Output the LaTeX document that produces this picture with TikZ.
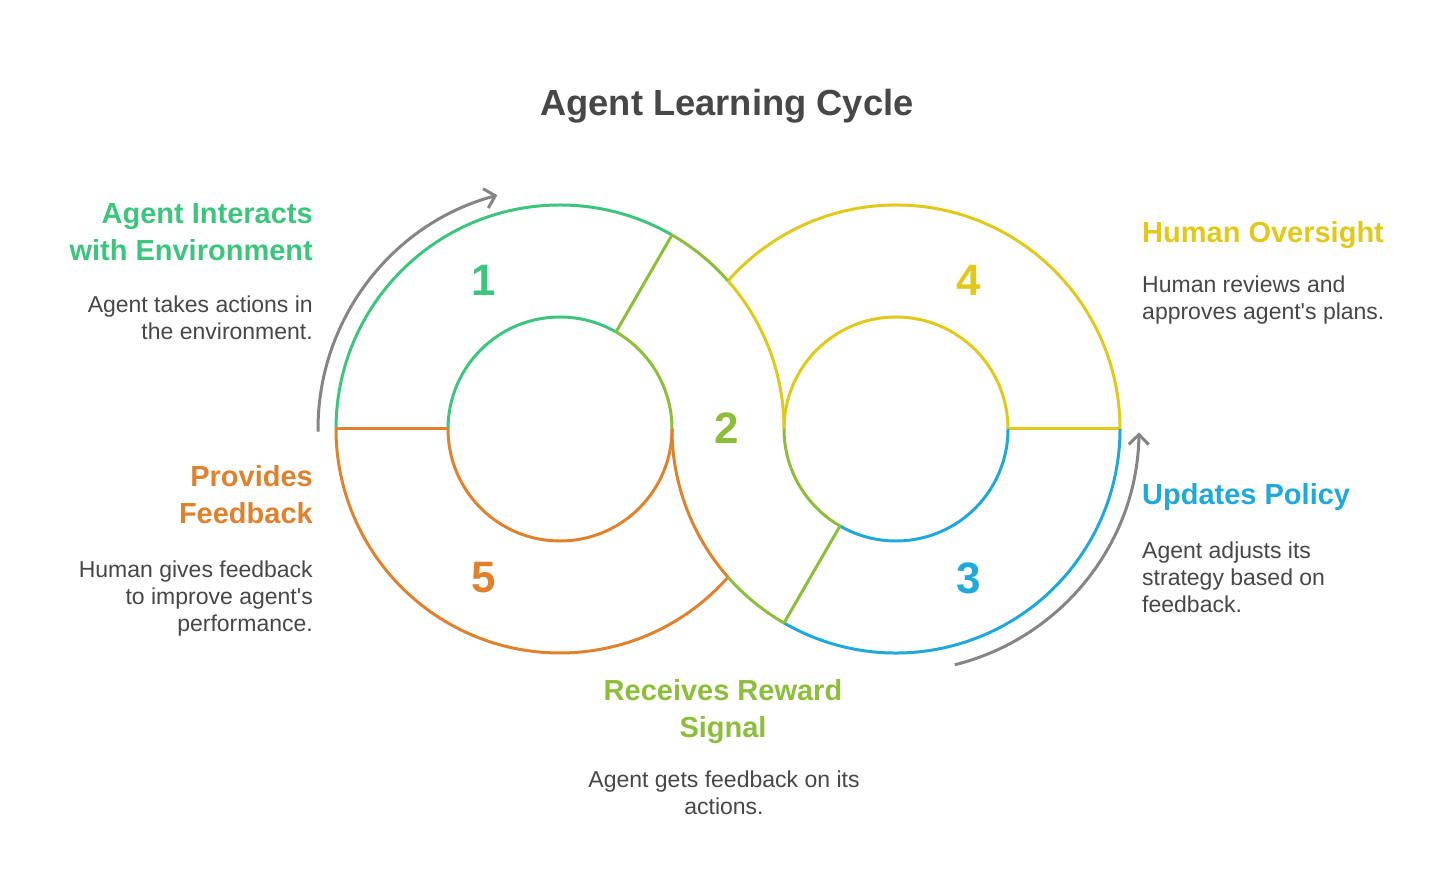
\documentclass[tikz,border=0pt]{standalone}
\usepackage{fontspec}
\setmainfont{Liberation Sans}
\usetikzlibrary{arrows.meta}
\definecolor{cgreen}{HTML}{3DC57E}
\definecolor{colive}{HTML}{8DBE3A}
\definecolor{cyellow}{HTML}{E2C919}
\definecolor{cblue}{HTML}{1FA8DC}
\definecolor{corange}{HTML}{E0812E}
\definecolor{cgray}{HTML}{858585}
\definecolor{ctext}{HTML}{474747}
\begin{document}
\begin{tikzpicture}[x=1pt,y=1pt,
  ring/.style={line width=3pt},
  cyclearrow/.style={line width=3pt, draw=cgray, -{Straight Barb[length=10pt,width=20pt,line width=3pt]}},
  lbl/.style={font=\fontsize{29}{36.5}\selectfont\bfseries, inner sep=0pt},
  body/.style={font=\fontsize{23}{27}\selectfont, inner sep=0pt, text=ctext},
  num/.style={font=\fontsize{44}{44}\selectfont\bfseries, inner sep=0pt, anchor=center},
  ttl/.style={font=\fontsize{36.3}{40}\selectfont\bfseries, inner sep=0pt, text=ctext}]
\fill[white] (0,0) rectangle (1456,896);
\useasboundingbox (0,0) rectangle (1456,896);
\coordinate (L) at (560,467);
\coordinate (R) at (896,467);
% green segment 1
\draw[ring, cgreen] (L) ++(180:224) arc[start angle=180, end angle=60, radius=224];
\draw[ring, cgreen] (L) ++(180:112) arc[start angle=180, end angle=60, radius=112];
% yellow segment 4
\draw[ring, cyellow] (R) ++(0:224) arc[start angle=0, end angle=138.59, radius=224];
\draw[ring, cyellow] (L) ++(41.41:224) arc[start angle=41.41, end angle=0, radius=224];
\draw[ring, cyellow] (R) ++(0:112) arc[start angle=0, end angle=180, radius=112];
\draw[ring, cyellow] (R) ++(0:112) -- ++(0:112);
% blue segment 3
\draw[ring, cblue] (R) ++(240:112) arc[start angle=240, end angle=360, radius=112];
\draw[ring, cblue] (R) ++(240:224) arc[start angle=240, end angle=360, radius=224];
% orange segment 5
\draw[ring, corange] (R) ++(180:224) arc[start angle=180, end angle=221.41, radius=224];
\draw[ring, corange] (L) ++(-41.41:224) arc[start angle=-41.41, end angle=-180, radius=224];
\draw[ring, corange] (L) ++(0:112) arc[start angle=0, end angle=-180, radius=112];
\draw[ring, corange] (L) ++(180:112) -- ++(180:112);
% olive segment 2
\draw[ring, colive] (L) ++(60:112) -- ++(60:112);
\draw[ring, colive] (L) ++(60:112) arc[start angle=60, end angle=0, radius=112];
\draw[ring, colive] (L) ++(60:224) arc[start angle=60, end angle=41.41, radius=224];
\draw[ring, colive] (R) ++(180:112) arc[start angle=180, end angle=240, radius=112];
\draw[ring, colive] (R) ++(240:112) -- ++(240:112);
\draw[ring, colive] (R) ++(240:224) arc[start angle=240, end angle=221.41, radius=224];
% cycle arrows
\draw[cyclearrow] (L) ++(180.6:242) arc[start angle=180.6, end angle=105, radius=242];
\draw[cyclearrow] (R) ++(-76:243) arc[start angle=-76, end angle=-0.8, radius=243];
% numbers
\node[num, text=cgreen] (n1) at (484,616) {1};
\node[num, text=colive] (n2) at (727,468) {2};
\node[num, text=cblue] (n3) at (969,318) {3};
\node[num, text=cyellow] (n4) at (969,616) {4};
\node[num, text=corange] (n5) at (484,318) {5};
% title
\node[ttl, anchor=base] (title) at (727,780) {Agent Learning Cycle};
% labels
\node[lbl, text=cgreen, anchor=base east] (t1) at (313,672) {\begin{tabular}[t]{@{}r@{}}Agent Interacts\\with Environment\end{tabular}};
\node[body, anchor=base east] (d1) at (313,583) {\begin{tabular}[t]{@{}r@{}}Agent takes actions in\\the environment.\end{tabular}};
\node[lbl, text=corange, anchor=base east] (t5) at (313,409) {\begin{tabular}[t]{@{}r@{}}Provides\\Feedback\end{tabular}};
\node[body, anchor=base east] (d5) at (313,318) {\begin{tabular}[t]{@{}r@{}}Human gives feedback\\to improve agent\textquotesingle s\\performance.\end{tabular}};
\node[lbl, text=cyellow, anchor=base west] (t4) at (1142,653) {Human Oversight};
\node[body, anchor=base west] (d4) at (1142,603) {\begin{tabular}[t]{@{}l@{}}Human reviews and\\approves agent\textquotesingle s plans.\end{tabular}};
\node[lbl, text=cblue, anchor=base west] (t3) at (1142,391) {Updates Policy};
\node[body, anchor=base west] (d3) at (1142,337) {\begin{tabular}[t]{@{}l@{}}Agent adjusts its\\strategy based on\\feedback.\end{tabular}};
\node[lbl, text=colive, anchor=base] (t2) at (723,195) {\begin{tabular}[t]{@{}c@{}}Receives Reward\\Signal\end{tabular}};
\node[body, anchor=base] (d2) at (724,108) {\begin{tabular}[t]{@{}c@{}}Agent gets feedback on its\\actions.\end{tabular}};
\end{tikzpicture}
\end{document}
